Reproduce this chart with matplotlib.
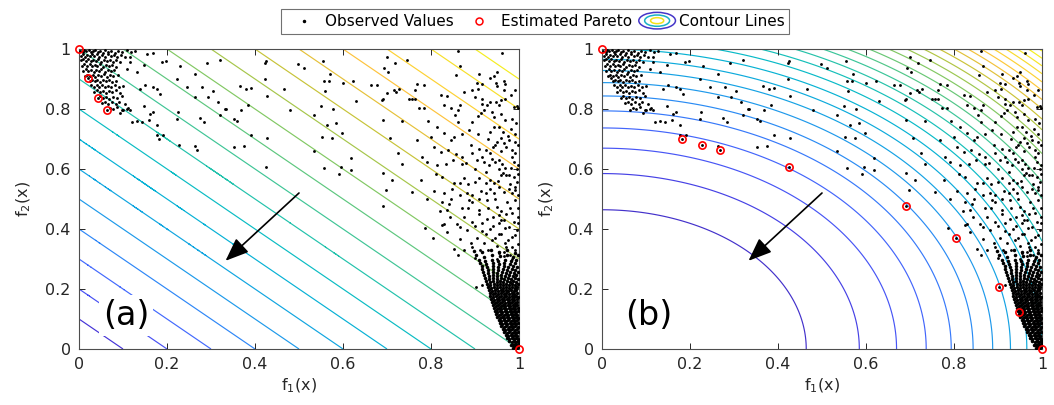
import numpy as np
import matplotlib
matplotlib.use("Agg")
import matplotlib.pyplot as plt
from matplotlib.colors import LinearSegmentedColormap, Normalize
from matplotlib.lines import Line2D
from matplotlib.patches import Ellipse
from matplotlib.legend_handler import HandlerBase

# ---- data ----------------------------------------------------------------
TICKS = [0, 0.2, 0.4, 0.6, 0.8, 1.0]
TICK_LABELS = ["0", "0.2", "0.4", "0.6", "0.8", "1"]

LEVELS_A = [0.1, 0.2, 0.3, 0.4, 0.5, 0.6, 0.7, 0.8, 0.9, 1.0,
            1.1, 1.2, 1.3, 1.4, 1.5, 1.6, 1.7, 1.8, 1.9]
LEVELS_B = [0.1, 0.2, 0.3, 0.4, 0.5, 0.6, 0.7, 0.8, 0.9, 1.0,
            1.1, 1.2, 1.3, 1.4, 1.5, 1.6, 1.7, 1.8, 1.9, 2.0,
            2.1, 2.2, 2.3, 2.4, 2.5, 2.6, 2.7, 2.8]

PARETO_A = [(0.0, 1.0), (0.02, 0.902), (0.043, 0.838), (0.064, 0.796), (1.0, 0.0)]
PARETO_B = [(0.0, 1.0), (0.181, 0.701), (0.228, 0.681), (0.269, 0.664), (0.425, 0.608),
            (0.692, 0.476), (0.804, 0.371), (0.903, 0.208), (0.948, 0.122), (1.0, 0.0)]

# dense cluster near (0, 1)
OBS_TOPLEFT = [
    (0.003, 0.995), (0.008, 0.99), (0.012, 0.997), (0.017, 0.992), (0.022, 0.996), (0.027, 0.989),
    (0.032, 0.994), (0.037, 0.998), (0.043, 0.991), (0.048, 0.995), (0.054, 0.988), (0.06, 0.996),
    (0.066, 0.99), (0.073, 0.994), (0.081, 0.987), (0.089, 0.995), (0.098, 0.991), (0.108, 0.996),
    (0.118, 0.989), (0.127, 0.993),
    (0.004, 0.978), (0.009, 0.983), (0.014, 0.975), (0.019, 0.981), (0.024, 0.976), (0.029, 0.983),
    (0.035, 0.977), (0.041, 0.982), (0.046, 0.974), (0.052, 0.98), (0.058, 0.975), (0.065, 0.982),
    (0.072, 0.976), (0.079, 0.98), (0.087, 0.973), (0.095, 0.979), (0.104, 0.975),
    (0.005, 0.962), (0.01, 0.967), (0.016, 0.96), (0.021, 0.966), (0.027, 0.959), (0.032, 0.965),
    (0.038, 0.961), (0.044, 0.967), (0.05, 0.958), (0.056, 0.964), (0.063, 0.959), (0.07, 0.965),
    (0.077, 0.958), (0.085, 0.962), (0.093, 0.957),
    (0.006, 0.944), (0.012, 0.949), (0.018, 0.943), (0.024, 0.95), (0.03, 0.942), (0.036, 0.948),
    (0.042, 0.944), (0.048, 0.95), (0.055, 0.941), (0.061, 0.947), (0.068, 0.943), (0.076, 0.948),
    (0.084, 0.94),
    (0.009, 0.928), (0.015, 0.932), (0.021, 0.926), (0.027, 0.931), (0.033, 0.925), (0.039, 0.93),
    (0.045, 0.927), (0.051, 0.933), (0.058, 0.924), (0.065, 0.93), (0.072, 0.926), (0.08, 0.931),
    (0.013, 0.911), (0.019, 0.915), (0.025, 0.909), (0.031, 0.914), (0.037, 0.908), (0.043, 0.913),
    (0.049, 0.91), (0.056, 0.916), (0.063, 0.907), (0.07, 0.912), (0.078, 0.909), (0.088, 0.914),
    (0.02, 0.902), (0.024, 0.894), (0.03, 0.898), (0.036, 0.892), (0.042, 0.897), (0.048, 0.891),
    (0.054, 0.896), (0.061, 0.893), (0.068, 0.898), (0.075, 0.89), (0.083, 0.895),
    (0.028, 0.879), (0.034, 0.875), (0.04, 0.881), (0.046, 0.874), (0.052, 0.879), (0.059, 0.873),
    (0.066, 0.878), (0.073, 0.874), (0.081, 0.88), (0.091, 0.872), (0.101, 0.877),
    (0.035, 0.858), (0.041, 0.862), (0.047, 0.856), (0.054, 0.861), (0.061, 0.855), (0.068, 0.86),
    (0.076, 0.857), (0.085, 0.862), (0.094, 0.854),
    (0.043, 0.838), (0.048, 0.842), (0.055, 0.836), (0.062, 0.841), (0.069, 0.835), (0.077, 0.84),
    (0.086, 0.836), (0.097, 0.842),
    (0.053, 0.82), (0.06, 0.824), (0.067, 0.818), (0.075, 0.823), (0.083, 0.817), (0.092, 0.822),
    (0.104, 0.818),
    (0.064, 0.796), (0.07, 0.803), (0.078, 0.799), (0.087, 0.805), (0.1, 0.798), (0.112, 0.802),
]

# scattered observations
OBS_SPARSE = [
    (0.116, 0.973), (0.116, 0.957), (0.154, 0.984), (0.169, 0.987), (0.188, 0.957), (0.198, 0.96),
    (0.147, 0.946), (0.132, 0.923), (0.109, 0.934), (0.23, 0.942), (0.29, 0.953), (0.32, 0.962),
    (0.264, 0.918), (0.222, 0.901), (0.245, 0.873), (0.305, 0.86), (0.279, 0.873), (0.294, 0.84),
    (0.317, 0.823), (0.332, 0.801), (0.264, 0.84), (0.226, 0.79), (0.222, 0.768), (0.275, 0.771),
    (0.284, 0.757), (0.32, 0.779), (0.177, 0.868), (0.169, 0.873), (0.15, 0.879), (0.139, 0.868),
    (0.184, 0.851), (0.147, 0.809), (0.162, 0.784), (0.169, 0.79), (0.158, 0.762), (0.143, 0.757),
    (0.132, 0.76), (0.12, 0.757), (0.177, 0.748), (0.177, 0.712), (0.19, 0.712), (0.181, 0.701),
    (0.228, 0.681), (0.264, 0.677), (0.269, 0.664), (0.109, 0.801), (0.098, 0.796), (0.094, 0.787),
    (0.116, 0.796),
    (0.426, 0.961), (0.423, 0.953), (0.497, 0.949), (0.512, 0.937), (0.554, 0.961), (0.571, 0.918),
    (0.556, 0.892), (0.569, 0.892), (0.599, 0.887), (0.622, 0.893), (0.664, 0.879), (0.558, 0.86),
    (0.422, 0.901), (0.367, 0.878), (0.38, 0.868), (0.39, 0.87), (0.467, 0.868), (0.428, 0.842),
    (0.383, 0.812), (0.333, 0.801), (0.369, 0.798), (0.479, 0.798), (0.549, 0.811), (0.578, 0.801),
    (0.535, 0.781), (0.63, 0.826), (0.352, 0.768), (0.36, 0.76), (0.563, 0.748), (0.583, 0.754),
    (0.597, 0.719), (0.552, 0.708), (0.575, 0.703), (0.39, 0.714), (0.428, 0.702), (0.352, 0.673),
    (0.374, 0.676), (0.534, 0.661), (0.618, 0.637), (0.425, 0.608), (0.556, 0.604), (0.596, 0.607),
    (0.618, 0.596), (0.59, 0.584),
    (0.701, 0.974), (0.718, 0.954), (0.745, 0.965), (0.693, 0.938), (0.703, 0.924), (0.678, 0.879),
    (0.862, 0.994), (0.962, 0.987), (0.866, 0.943), (0.856, 0.913), (0.95, 0.924), (0.943, 0.909),
    (0.909, 0.916), (0.935, 0.905), (0.905, 0.887), (0.916, 0.885), (0.907, 0.868), (0.948, 0.887),
    (0.967, 0.893), (0.969, 0.883), (0.949, 0.876), (0.966, 0.863), (0.99, 0.863), (0.727, 0.868),
    (0.716, 0.863), (0.701, 0.854), (0.69, 0.835), (0.688, 0.829), (0.72, 0.857), (0.749, 0.835),
    (0.756, 0.833), (0.763, 0.863), (0.769, 0.885), (0.784, 0.879), (0.764, 0.832), (0.822, 0.848),
    (0.837, 0.843), (0.875, 0.857), (0.894, 0.863), (0.901, 0.84), (0.916, 0.835), (0.928, 0.813),
    (0.933, 0.824), (0.915, 0.816), (0.947, 0.824), (0.958, 0.829), (0.969, 0.832), (0.954, 0.813),
    (0.981, 0.846), (0.988, 0.807), (0.996, 0.809), (0.997, 0.802), (0.773, 0.802), (0.784, 0.802),
    (0.846, 0.802), (0.862, 0.796), (0.867, 0.813), (0.83, 0.813), (0.793, 0.761), (0.854, 0.779),
    (0.862, 0.757), (0.894, 0.757), (0.906, 0.776), (0.913, 0.787), (0.92, 0.796), (0.939, 0.791),
    (0.943, 0.772), (0.96, 0.785), (0.969, 0.763), (0.983, 0.768), (0.994, 0.752), (0.992, 0.718),
    (0.981, 0.735), (0.954, 0.741), (0.963, 0.724), (0.943, 0.741), (0.933, 0.724), (0.907, 0.718),
    (0.886, 0.729), (0.871, 0.716), (0.852, 0.707), (0.846, 0.698), (0.83, 0.721), (0.813, 0.741),
    (0.8, 0.707), (0.768, 0.698), (0.734, 0.761), (0.692, 0.765), (0.706, 0.705), (0.807, 0.674),
    (0.822, 0.657), (0.839, 0.665), (0.856, 0.65), (0.871, 0.641), (0.894, 0.652), (0.909, 0.668),
    (0.924, 0.663), (0.935, 0.652), (0.941, 0.674), (0.95, 0.69), (0.958, 0.702), (0.966, 0.685),
    (0.971, 0.674), (0.977, 0.696), (0.985, 0.663), (0.992, 0.652), (0.997, 0.68), (0.78, 0.641),
    (0.79, 0.624), (0.814, 0.613), (0.833, 0.618), (0.85, 0.63), (0.871, 0.618), (0.879, 0.621),
    (0.905, 0.63), (0.92, 0.624), (0.932, 0.613), (0.939, 0.635), (0.945, 0.624), (0.954, 0.63),
    (0.962, 0.618), (0.969, 0.602), (0.981, 0.602), (0.988, 0.624), (0.997, 0.613), (0.724, 0.652),
    (0.735, 0.618), (0.69, 0.587), (0.712, 0.565), (0.777, 0.565), (0.811, 0.583), (0.826, 0.572),
    (0.852, 0.552), (0.865, 0.554), (0.875, 0.569), (0.885, 0.549), (0.901, 0.557), (0.909, 0.569),
    (0.924, 0.554), (0.933, 0.565), (0.943, 0.552), (0.953, 0.561), (0.958, 0.58), (0.964, 0.587),
    (0.977, 0.58), (0.988, 0.572), (0.996, 0.557), (0.998, 0.585), (0.697, 0.53), (0.756, 0.524),
    (0.807, 0.528), (0.83, 0.519), (0.847, 0.532), (0.865, 0.513), (0.882, 0.519), (0.894, 0.513),
    (0.913, 0.528), (0.924, 0.519), (0.935, 0.535), (0.943, 0.519), (0.954, 0.541), (0.966, 0.524),
    (0.977, 0.535), (0.985, 0.519), (0.992, 0.541), (0.997, 0.513),
    (0.975, 0.71), (0.99, 0.69), (0.96, 0.66), (0.985, 0.64), (0.995, 0.6), (0.97, 0.58),
    (0.98, 0.55), (0.99, 0.53), (0.955, 0.6), (0.945, 0.68), (0.93, 0.7), (0.925, 0.59),
    (0.915, 0.64), (0.9, 0.6), (0.89, 0.68),
    (0.692, 0.476), (0.791, 0.501), (0.825, 0.49), (0.84, 0.483), (0.846, 0.501), (0.886, 0.498),
    (0.893, 0.49), (0.909, 0.501), (0.927, 0.496), (0.946, 0.501), (0.973, 0.49), (0.992, 0.496),
    (0.821, 0.46), (0.836, 0.463), (0.829, 0.418), (0.825, 0.413), (0.844, 0.44), (0.859, 0.418),
    (0.867, 0.407), (0.893, 0.424), (0.882, 0.396), (0.909, 0.451), (0.927, 0.435), (0.954, 0.446),
    (0.965, 0.429), (0.977, 0.407), (0.988, 0.424), (0.997, 0.44), (0.836, 0.39), (0.867, 0.368),
    (0.852, 0.335), (0.861, 0.313), (0.893, 0.34), (0.912, 0.329), (0.901, 0.302), (0.939, 0.363),
    (0.954, 0.385), (0.969, 0.402), (0.969, 0.352), (0.984, 0.374), (0.995, 0.396), (0.787, 0.405),
    (0.804, 0.371), (0.916, 0.213), (0.903, 0.208),
    (0.93, 0.47), (0.95, 0.475), (0.96, 0.46), (0.98, 0.47), (0.915, 0.42), (0.94, 0.41),
    (0.955, 0.42), (0.925, 0.385), (0.945, 0.37), (0.96, 0.385), (0.975, 0.365), (0.99, 0.38),
    (0.92, 0.355), (0.95, 0.345), (0.985, 0.34), (0.93, 0.33), (0.965, 0.325), (0.98, 0.315),
    (0.905, 0.37), (0.94, 0.44), (0.97, 0.45), (0.985, 0.455), (0.998, 0.47), (0.91, 0.465),
    (0.875, 0.44), (0.87, 0.47), (0.9, 0.41), (0.89, 0.355), (0.875, 0.33), (0.998, 0.35),
    (0.998, 0.42), (0.96, 0.43), (0.935, 0.4), (0.915, 0.395), (0.885, 0.47),
    (0.95, 0.3), (0.965, 0.31), (0.985, 0.3), (0.97, 0.34), (0.99, 0.33), (0.955, 0.32),
]

# dense wedge near (1, 0)
OBS_BOTTOMRIGHT = [
    (0.986, 0.004), (0.991, 0.007), (0.995, 0.003), (0.998, 0.008),
    (0.982, 0.015), (0.987, 0.012), (0.992, 0.017), (0.996, 0.014), (0.999, 0.019),
    (0.977, 0.026), (0.983, 0.023), (0.988, 0.028), (0.993, 0.024), (0.997, 0.027),
    (0.973, 0.036), (0.978, 0.033), (0.984, 0.038), (0.989, 0.034), (0.994, 0.037), (0.998, 0.032),
    (0.97, 0.046), (0.975, 0.043), (0.981, 0.047), (0.986, 0.044), (0.991, 0.048), (0.996, 0.043),
    (0.967, 0.056), (0.972, 0.053), (0.978, 0.057), (0.983, 0.054), (0.988, 0.058), (0.993, 0.052),
    (0.998, 0.056),
    (0.963, 0.066), (0.969, 0.063), (0.974, 0.067), (0.979, 0.064), (0.985, 0.068), (0.99, 0.062),
    (0.995, 0.066),
    (0.96, 0.076), (0.966, 0.073), (0.971, 0.077), (0.977, 0.074), (0.982, 0.078), (0.987, 0.072),
    (0.992, 0.076), (0.997, 0.073),
    (0.957, 0.086), (0.962, 0.083), (0.968, 0.087), (0.973, 0.084), (0.979, 0.088), (0.984, 0.082),
    (0.989, 0.086), (0.994, 0.083), (0.998, 0.087),
    (0.954, 0.096), (0.959, 0.093), (0.965, 0.097), (0.97, 0.094), (0.976, 0.098), (0.981, 0.092),
    (0.986, 0.096), (0.991, 0.093), (0.996, 0.097),
    (0.951, 0.106), (0.956, 0.103), (0.962, 0.107), (0.967, 0.104), (0.973, 0.108), (0.978, 0.102),
    (0.983, 0.106), (0.989, 0.103), (0.994, 0.107), (0.998, 0.104),
    (0.948, 0.116), (0.954, 0.113), (0.959, 0.117), (0.965, 0.114), (0.97, 0.118), (0.975, 0.112),
    (0.981, 0.116), (0.986, 0.113), (0.991, 0.117), (0.996, 0.114),
    (0.946, 0.126), (0.951, 0.123), (0.957, 0.127), (0.962, 0.124), (0.968, 0.128), (0.973, 0.122),
    (0.979, 0.126), (0.984, 0.123), (0.989, 0.127), (0.994, 0.124), (0.998, 0.128),
    (0.944, 0.136), (0.949, 0.133), (0.955, 0.137), (0.96, 0.134), (0.966, 0.138), (0.971, 0.132),
    (0.977, 0.136), (0.982, 0.133), (0.987, 0.137), (0.992, 0.134), (0.997, 0.138),
    (0.941, 0.146), (0.947, 0.143), (0.953, 0.147), (0.958, 0.144), (0.964, 0.148), (0.969, 0.142),
    (0.975, 0.146), (0.98, 0.143), (0.986, 0.147), (0.991, 0.144), (0.996, 0.148),
    (0.939, 0.156), (0.945, 0.153), (0.951, 0.157), (0.957, 0.154), (0.962, 0.158), (0.968, 0.152),
    (0.974, 0.156), (0.979, 0.153), (0.985, 0.157), (0.99, 0.154), (0.995, 0.158),
    (0.937, 0.166), (0.944, 0.163), (0.95, 0.167), (0.955, 0.164), (0.961, 0.168), (0.967, 0.162),
    (0.972, 0.166), (0.978, 0.163), (0.984, 0.167), (0.989, 0.164), (0.995, 0.168),
    (0.935, 0.176), (0.942, 0.173), (0.948, 0.177), (0.954, 0.174), (0.96, 0.178), (0.966, 0.172),
    (0.971, 0.176), (0.977, 0.173), (0.983, 0.177), (0.988, 0.174), (0.994, 0.178), (0.998, 0.175),
    (0.933, 0.186), (0.94, 0.183), (0.946, 0.187), (0.953, 0.184), (0.959, 0.188), (0.965, 0.182),
    (0.971, 0.186), (0.977, 0.183), (0.983, 0.187), (0.989, 0.184), (0.995, 0.188),
    (0.931, 0.196), (0.938, 0.193), (0.945, 0.197), (0.952, 0.194), (0.958, 0.198), (0.964, 0.192),
    (0.97, 0.196), (0.976, 0.193), (0.982, 0.197), (0.988, 0.194), (0.994, 0.198),
    (0.929, 0.206), (0.937, 0.203), (0.944, 0.207), (0.951, 0.204), (0.957, 0.208), (0.964, 0.202),
    (0.97, 0.206), (0.977, 0.203), (0.984, 0.207), (0.99, 0.204), (0.996, 0.208),
    (0.927, 0.216), (0.935, 0.213), (0.943, 0.217), (0.95, 0.214), (0.957, 0.218), (0.964, 0.212),
    (0.971, 0.216), (0.978, 0.213), (0.985, 0.217), (0.992, 0.214), (0.998, 0.218),
    (0.925, 0.226), (0.933, 0.223), (0.942, 0.227), (0.949, 0.224), (0.957, 0.228), (0.964, 0.222),
    (0.972, 0.226), (0.979, 0.223), (0.987, 0.227), (0.994, 0.224),
    (0.923, 0.236), (0.932, 0.233), (0.941, 0.237), (0.949, 0.234), (0.958, 0.238), (0.966, 0.232),
    (0.974, 0.236), (0.982, 0.233), (0.99, 0.237), (0.997, 0.234),
    (0.921, 0.246), (0.931, 0.243), (0.94, 0.247), (0.95, 0.244), (0.959, 0.248), (0.968, 0.242),
    (0.977, 0.246), (0.986, 0.243), (0.994, 0.247),
    (0.919, 0.256), (0.93, 0.253), (0.941, 0.257), (0.951, 0.254), (0.961, 0.258), (0.971, 0.252),
    (0.98, 0.256), (0.989, 0.253), (0.997, 0.257),
    (0.917, 0.266), (0.929, 0.263), (0.941, 0.267), (0.952, 0.264), (0.963, 0.268), (0.973, 0.262),
    (0.983, 0.266), (0.992, 0.263),
    (0.915, 0.276), (0.928, 0.273), (0.941, 0.277), (0.953, 0.274), (0.965, 0.278), (0.976, 0.272),
    (0.986, 0.276), (0.995, 0.273),
    (0.912, 0.286), (0.926, 0.283), (0.94, 0.287), (0.954, 0.284), (0.967, 0.288), (0.979, 0.282),
    (0.99, 0.286),
    (0.908, 0.296), (0.923, 0.293), (0.938, 0.297), (0.953, 0.294), (0.968, 0.298), (0.981, 0.292),
    (0.993, 0.296),
    (0.903, 0.312), (0.921, 0.306), (0.939, 0.314), (0.956, 0.309), (0.972, 0.315), (0.987, 0.307),
    (0.998, 0.313),
    (0.897, 0.327), (0.917, 0.322), (0.936, 0.329), (0.955, 0.324), (0.973, 0.33), (0.99, 0.321),
]

# MATLAB parula (original release), sampled every 5 %
PARULA = [
    (0.2422, 0.1504, 0.6603), (0.2726, 0.2077, 0.8541), (0.2810, 0.3228, 0.9579),
    (0.2586, 0.4129, 0.9917), (0.1786, 0.5289, 0.9682), (0.1196, 0.6037, 0.9203),
    (0.0592, 0.6508, 0.8785), (0.0272, 0.6943, 0.8325), (0.0377, 0.7377, 0.7654),
    (0.1296, 0.7596, 0.6768), (0.2422, 0.7725, 0.5910), (0.3685, 0.7813, 0.4915),
    (0.5109, 0.7837, 0.3868), (0.6474, 0.7778, 0.2899), (0.7741, 0.7659, 0.2205),
    (0.8930, 0.7577, 0.2228), (0.9913, 0.7633, 0.2344), (0.9936, 0.8170, 0.2007),
    (0.9676, 0.8722, 0.1664), (0.9602, 0.9278, 0.1279), (0.9769, 0.9839, 0.0805),
]
parula = LinearSegmentedColormap.from_list("parula", PARULA)


class ContourKey:
    pass


class ContourKeyHandler(HandlerBase):
    def create_artists(self, legend, orig_handle, xdescent, ydescent, width, height, fontsize, trans):
        cx, cy = width / 2 - xdescent, height / 2 - ydescent
        out = []
        for scale, color in [(1.0, "#4536c8"), (0.68, "#19b2c6"), (0.36, "#f2e21a")]:
            out.append(Ellipse((cx, cy), width * scale, height * 1.55 * scale, fill=False,
                               edgecolor=color, lw=1.1, transform=trans))
        return out


def style_axes(ax, label):
    ax.set_xlim(0, 1)
    ax.set_ylim(0, 1)
    ax.set_xticks(TICKS)
    ax.set_xticklabels(TICK_LABELS)
    ax.set_yticks(TICKS)
    ax.set_yticklabels(TICK_LABELS)
    ax.tick_params(direction="in", top=True, right=True, length=4, width=0.7,
                   labelsize=11.5, colors="0.15", pad=6)
    for s in ax.spines.values():
        s.set_color("0.3")
        s.set_linewidth(0.8)
    ax.set_xlabel("f$_1$(x)", fontsize=11.5, color="0.15", labelpad=3)
    ax.set_ylabel("f$_2$(x)", fontsize=11.5, color="0.15", labelpad=9)
    ax.text(0.107, 0.112, label, fontsize=24, ha="center", va="center", zorder=6,
            bbox=dict(boxstyle="square,pad=0.12", fc="white", ec="none"))
    ax.annotate("", xy=(0.333, 0.294), xytext=(0.5, 0.52), zorder=5,
                arrowprops=dict(arrowstyle="-|>,head_length=0.95,head_width=0.38",
                                mutation_scale=15, lw=1.2, color="k",
                                shrinkA=0, shrinkB=0))


spread = OBS_TOPLEFT + OBS_SPARSE
spread_f1 = [p[0] for p in spread]
spread_f2 = [p[1] for p in spread]
wedge_f1 = [p[0] for p in OBS_BOTTOMRIGHT]
wedge_f2 = [p[1] for p in OBS_BOTTOMRIGHT]

g = np.linspace(0, 1, 501)
F1, F2 = np.meshgrid(g, g)

fig = plt.figure(figsize=(10.54, 4.05), dpi=100)
ax_a = fig.add_axes([79 / 1054, 56 / 405, 440 / 1054, 300 / 405])
ax_b = fig.add_axes([602 / 1054, 56 / 405, 440 / 1054, 300 / 405])

for ax, Z, levels, pareto, label in [
    (ax_a, F1 + F2, LEVELS_A, PARETO_A, "(a)"),
    (ax_b, (F1 ** 2 + F2 ** 2) ** 1.5, LEVELS_B, PARETO_B, "(b)"),
]:
    ax.contour(F1, F2, Z, levels=levels, cmap=parula,
               norm=Normalize(Z.min(), Z.max()), linewidths=0.85, zorder=1)
    ax.scatter(spread_f1, spread_f2, s=4.2, color="k", linewidths=0, zorder=3)
    # the wedge is packed far tighter than can be listed, so its dots are drawn larger
    ax.scatter(wedge_f1, wedge_f2, s=6.5, color="k", linewidths=0, zorder=3)
    ax.plot([p[0] for p in pareto], [p[1] for p in pareto], "o", ms=5.2, mfc="none",
            mec="#ff0000", mew=1.2, zorder=4, clip_on=False)
    style_axes(ax, label)

handles = [
    Line2D([], [], ls="none", marker=".", ms=3, color="k"),
    Line2D([], [], ls="none", marker="o", ms=5, mfc="none", mec="#ff0000", mew=1.1),
    ContourKey(),
]
leg = fig.legend(handles, ["Observed Values", "Estimated Pareto", "Contour Lines"],
                 handler_map={ContourKey: ContourKeyHandler()},
                 loc="center", bbox_to_anchor=(535 / 1054, 1 - 21.5 / 405), ncol=3,
                 fontsize=11, frameon=True, fancybox=False, edgecolor="0.3",
                 handlelength=2.4, handletextpad=0.2, columnspacing=0.45, borderpad=0.3)
leg.get_frame().set_linewidth(0.8)

fig.savefig("out.png", dpi=100)
